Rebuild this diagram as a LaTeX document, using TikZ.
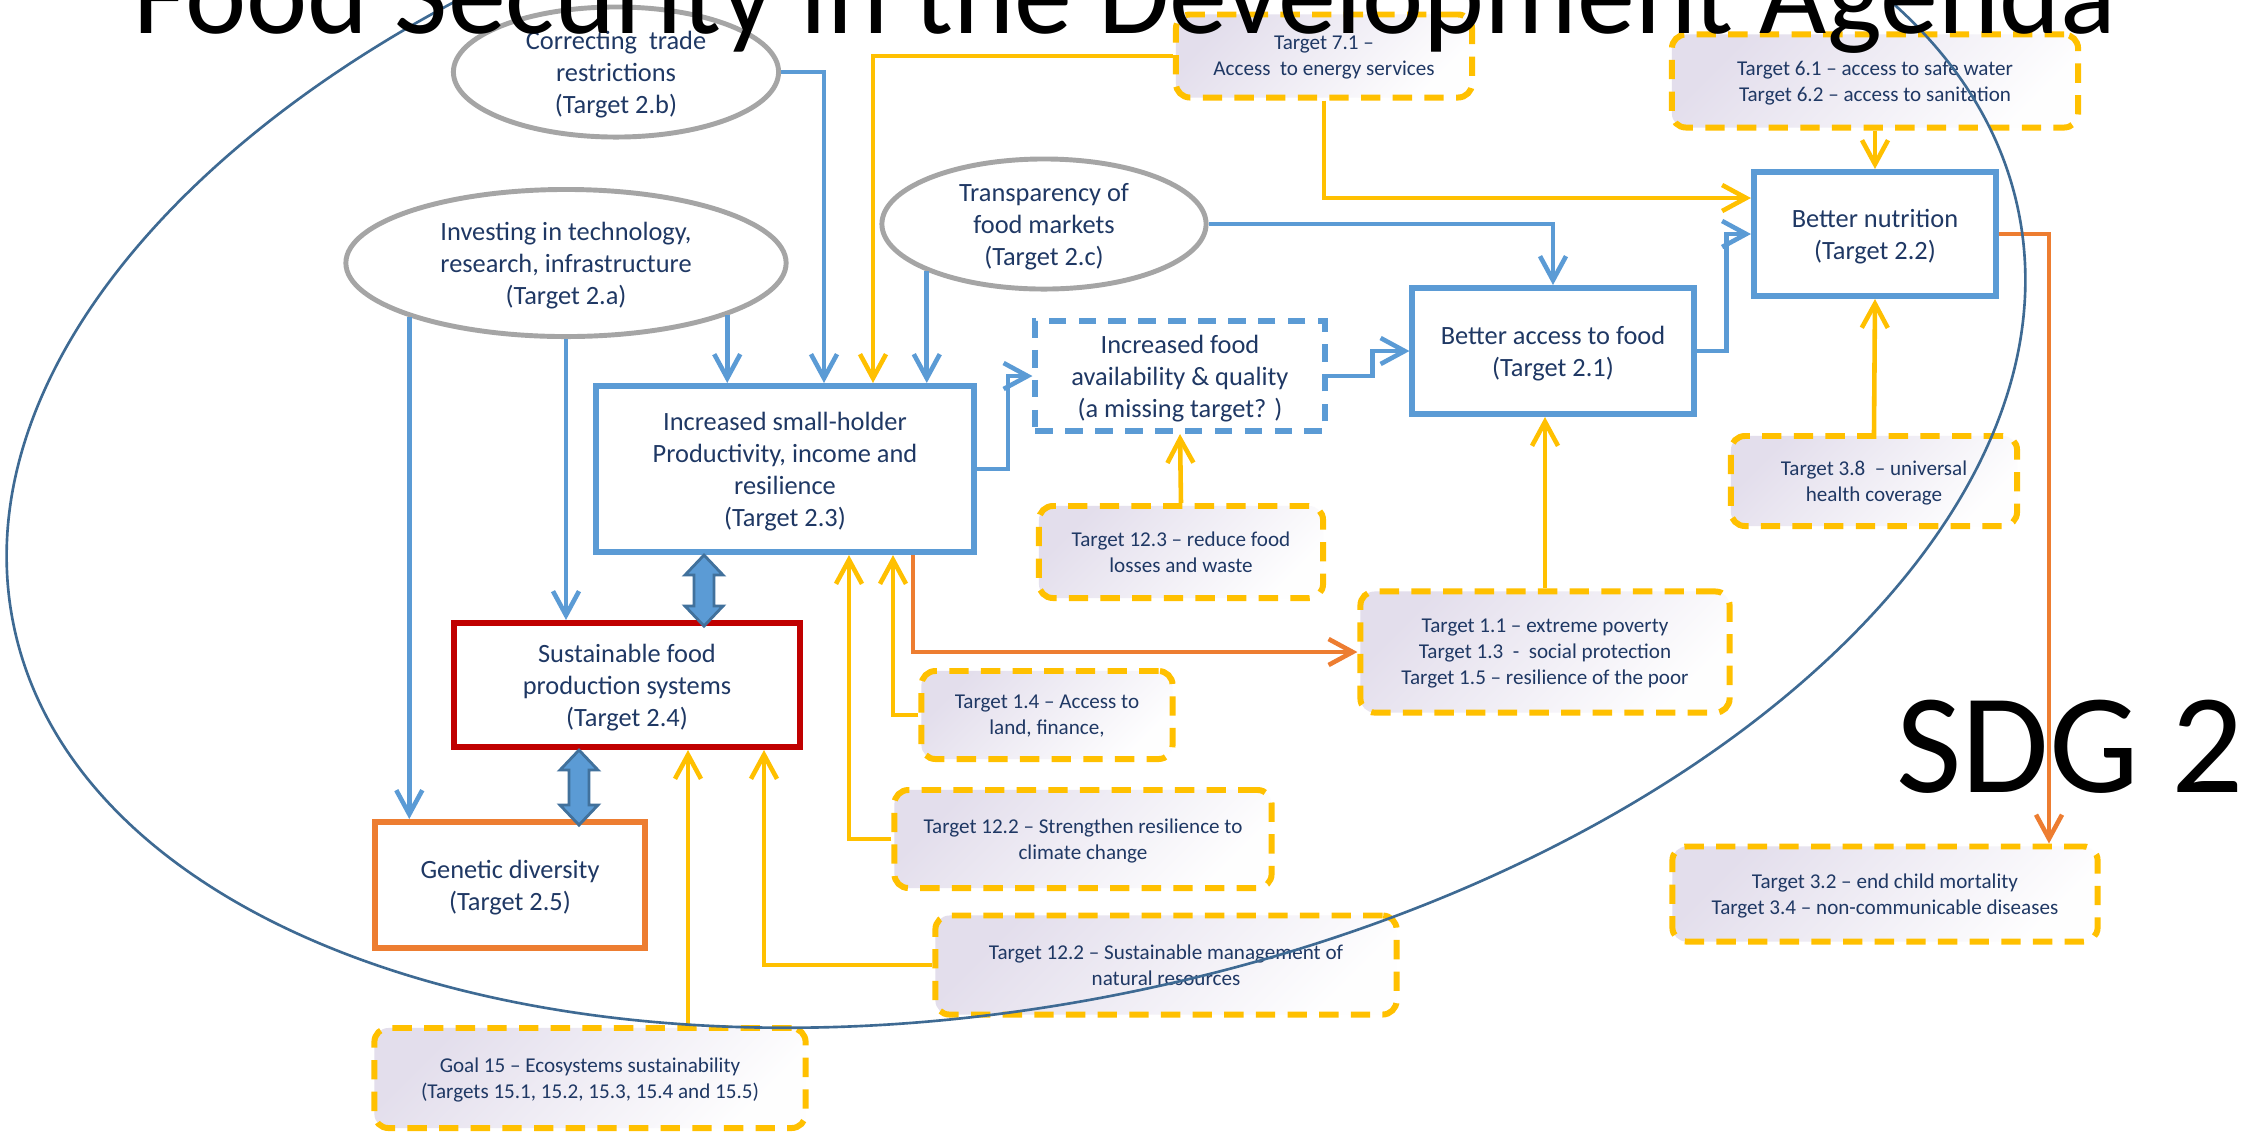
\documentclass[tikz,border=0pt]{standalone}
\usepackage{fontspec}
\setmainfont{Carlito}
\usetikzlibrary{shapes.geometric, arrows.meta, calc}

\definecolor{sdgblue}{HTML}{5B9BD5}
\definecolor{sdgdark}{HTML}{41719C}
\definecolor{sdgyellow}{HTML}{FFC000}
\definecolor{sdgorange}{HTML}{ED7D31}
\definecolor{sdgred}{HTML}{C00000}
\definecolor{sdggray}{HTML}{A5A5A5}
\definecolor{sdgtext}{HTML}{1F3864}
\definecolor{sdglav}{HTML}{E3DEEC}
\definecolor{sdgring}{HTML}{3E6A93}

\tikzstyle{goal} = [ellipse, draw=sdggray, line width=1.4pt, fill=white, text=sdgtext, align=center, inner sep=0pt, text depth=0pt, font=\fontsize{7.5}{9.1}\selectfont]
\tikzstyle{target} = [rectangle, draw=sdgblue, line width=1.7pt, fill=white, text=sdgtext, align=center, text depth=0pt, font=\fontsize{7.5}{9.1}\selectfont]
\tikzstyle{missing} = [target, dash pattern=on 5pt off 3.5pt]
\tikzstyle{linked} = [rectangle, rounded corners=4pt, draw=sdgyellow, line width=1.7pt, dash pattern=on 5.5pt off 3.5pt, top color=sdglav, bottom color=white!96!sdglav, shading angle=45, text=sdgtext, align=center, text depth=0pt, font=\fontsize{6}{7.4}\selectfont]
\tikzstyle{arrow} = [line width=1.3pt, ->, >={Straight Barb[length=2.4mm, width=2.6mm]}]
\tikzstyle{bluearrow} = [arrow, sdgblue]
\tikzstyle{yarrow} = [arrow, sdgyellow]
\tikzstyle{oarrow} = [arrow, sdgorange]
\tikzstyle{biarrow} = [fill=sdgblue, draw=sdgdark, line width=0.8pt, line join=miter]

\begin{document}
\begin{tikzpicture}[x=0.01cm, y=-0.01cm]
        \useasboundingbox (0,0) rectangle (2241,1132);
        \clip (0,0) rectangle (2241,1132);
        \fill[white] (0,0) rectangle (2241,1132);

        \node (sdg) [anchor=base west, font=\fontsize{40.5}{40.5}\selectfont] at (1884,792) {SDG 2};

        % goals (ellipses)
        \node (Eb) [goal, minimum width=3.25cm, minimum height=1.3cm] at (616,72) {Correcting~ trade\\restrictions\\(Target 2.b)};
        \node (Ea) [goal, minimum width=4.4cm, minimum height=1.47cm] at (566,263) {Investing in technology,\\research, infrastructure\\(Target 2.a)};
        \node (Ec) [goal, minimum width=3.24cm, minimum height=1.3cm] at (1044,224) {Transparency of\\food markets\\(Target 2.c)};

        % SDG 2 targets
        \node (B23) [target, minimum width=3.78cm, minimum height=1.66cm] at (785,469) {Increased small-holder\\Productivity, income and\\resilience\\(Target 2.3)};
        \node (B24) [target, draw=sdgred, minimum width=3.45cm, minimum height=1.24cm] at (627,685) {Sustainable food\\production systems\\(Target 2.4)};
        \node (B25) [target, draw=sdgorange, minimum width=2.7cm, minimum height=1.26cm] at (510,885) {Genetic diversity\\(Target 2.5)};
        \node (Bav) [missing, minimum width=2.89cm, minimum height=1.1cm] at (1180,376) {Increased food\\availability \& quality\\(a missing target? )};
        \node (B21) [target, minimum width=2.81cm, minimum height=1.26cm] at (1553,351) {Better access to food\\(Target 2.1)};
        \node (B22) [target, minimum width=2.42cm, minimum height=1.24cm] at (1875,234) {Better nutrition\\(Target 2.2)};

        % linked targets of other goals
        \node (T71) [linked, minimum width=2.96cm, minimum height=0.83cm] at (1324,56) {Target 7.1 –\\Access~ to energy services};
        \node (T61) [linked, minimum width=4.06cm, minimum height=0.93cm] at (1875,81) {Target 6.1 – access to safe water\\Target 6.2 – access to sanitation};
        \node (T123) [linked, minimum width=2.84cm, minimum height=0.92cm] at (1181,552) {Target 12.3 – reduce food\\losses and waste};
        \node (T11) [linked, minimum width=3.69cm, minimum height=1.21cm] at (1545,652) {Target 1.1 – extreme poverty\\Target 1.3~ -~ social protection\\Target 1.5 – resilience of the poor};
        \node (T38) [linked, minimum width=2.86cm, minimum height=0.9cm] at (1874,481) {Target 3.8~ – universal\\health coverage};
        \node (T14) [linked, minimum width=2.51cm, minimum height=0.88cm] at (1047,715) {Target 1.4 – Access to\\land, finance,};
        \node (T122a) [linked, minimum width=3.77cm, minimum height=0.98cm] at (1083,839) {Target 12.2 – Strengthen resilience to\\climate change};
        \node (T122b) [linked, minimum width=4.61cm, minimum height=0.99cm] at (1166,965) {Target 12.2 – Sustainable management of\\natural resources};
        \node (T15) [linked, minimum width=4.31cm, minimum height=1cm] at (590,1078) {Goal 15 – Ecosystems sustainability\\(Targets 15.1, 15.2, 15.3, 15.4 and 15.5)};
        \node (T32) [linked, minimum width=4.25cm, minimum height=0.95cm] at (1885,894) {Target 3.2 – end child mortality\\Target 3.4 – non-communicable diseases};

        % blue links
        \draw [bluearrow] (Eb.east) -| ($(B23.north)+(39,0)$);
        \draw [bluearrow] (Ea.-18.5) -- (Ea.-18.5 |- B23.north);
        \draw [bluearrow] (Ea.south) -- (Ea.south |- B24.north);
        \draw [bluearrow] (Ea.-161) -- (Ea.-161 |- B25.north);
        \draw [bluearrow] (Ec.-158) -- (Ec.-158 |- B23.north);
        \draw [bluearrow] (Ec.east) -| (B21.north);
        \draw [bluearrow] (B23.east) -- ++(31,0) |- (Bav.west);
        \draw [bluearrow] (Bav.east) -- ++(45,0) |- (B21.west);
        \draw [bluearrow] (B21.east) -- ++(30,0) |- (B22.west);

        % yellow links
        \draw [yarrow] (T71.west) -| ($(B23.north)+(88,0)$);
        \draw [yarrow] (T71.south) |- ($(B22.west)+(0,-36)$);
        \draw [yarrow] (T61.south) -- (B22.north);
        \draw [yarrow] (T123.north) -- (Bav.south);
        \draw [yarrow] (T11.north) -- (T11.north |- B21.south);
        \draw [yarrow] (T38.north) -- (B22.south);
        \draw [yarrow] (T14.west) -| ($(B23.south)+(108,0)$);
        \draw [yarrow] (T122a.west) -| ($(B23.south)+(64,0)$);
        \draw [yarrow] (T122b.west) -| ($(B24.south)+(137,0)$);
        \draw [yarrow] ($(T15.north)+(98,0)$) -- ($(B24.south)+(61,0)$);

        % orange links
        \draw [oarrow] ($(B23.south)+(128,0)$) |- (T11.west);
        \draw [oarrow] (B22.east) -| ($(T32.north)+(164,0)$);

        % two-way block arrows
        \draw [biarrow] ($(B23.south)+(-81,0)$) -- ++(19,20) -- ++(-9,0) -- ++(0,31) -- ++(9,0) -- ++(-19,20) -- ++(-19,-20) -- ++(9,0) -- ++(0,-31) -- ++(-9,0) -- cycle;
        \draw [biarrow] ($(B24.south)+(-48,0)$) -- ++(19,20) -- ++(-9,0) -- ++(0,35) -- ++(9,0) -- ++(-19,20) -- ++(-19,-20) -- ++(9,0) -- ++(0,-35) -- ++(-9,0) -- cycle;

        % SDG 2 ring
        \draw [sdgring, line width=0.75pt, rotate around={11.7:(1016,418)}] (1016,418) ellipse [x radius=10.23cm, y radius=5.85cm];

        \node (title) [anchor=base, font=\fontsize{33}{33}\selectfont] at (1125,33) {Food Security in the Development Agenda};
\end{tikzpicture}
\end{document}
